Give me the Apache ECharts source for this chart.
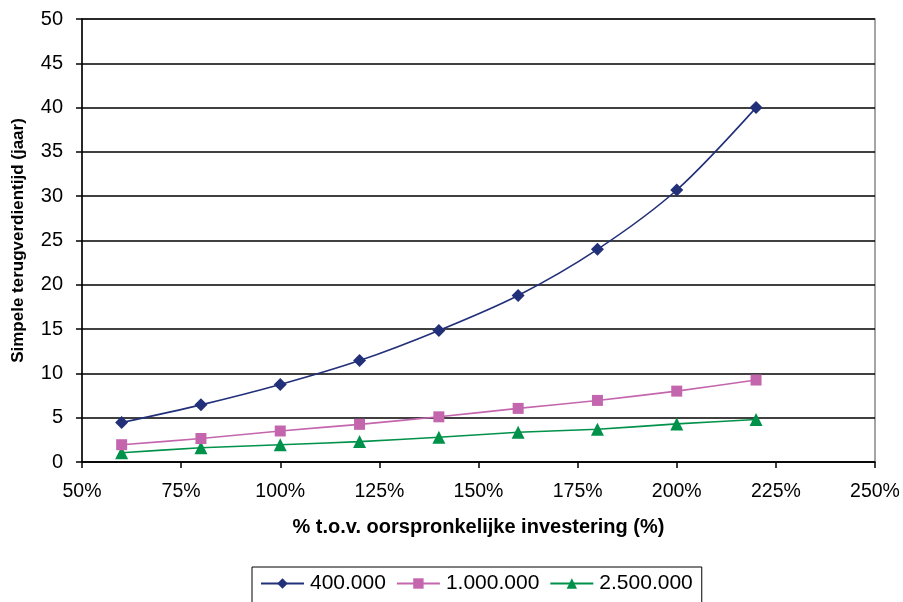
<!DOCTYPE html>
<html>
<head>
<meta charset="utf-8">
<script src="https://cdn.jsdelivr.net/npm/echarts@6/dist/echarts.min.js"></script>
<style>
  html, body { margin: 0; padding: 0; background: #fff; }
  #chart { width: 903px; height: 602px; }
</style>
</head>
<body>
<div id="chart"></div>
<script>
// Investment share relative to the original investment (%)
const investPct = [60, 80, 100, 120, 140, 160, 180, 200, 220];

// Simple payback period (years) per annual volume
const series400k = [4.45, 6.45, 8.75, 11.45, 14.85, 18.8, 24.0, 30.7, 40.0];
const series1m   = [1.95, 2.65, 3.5, 4.25, 5.1, 6.05, 6.95, 8.0, 9.25];
const series2_5m = [1.05, 1.6, 1.95, 2.3, 2.8, 3.35, 3.7, 4.3, 4.8];

const seriesNames = ['400.000', '1.000.000', '2.500.000'];
const seriesColors = ['#22307A', '#C466AE', '#00924A'];
const seriesSymbols = ['diamond', 'rect', 'triangle'];
const symbolSizes = [13, 11, 13];

const font = 'Liberation Sans, Arial, sans-serif';

const pair = (vals) => investPct.map((x, i) => [x, vals[i]]);
const allValues = [series400k, series1m, series2_5m];

const chart = echarts.init(document.getElementById('chart'), null, { renderer: 'canvas' });

chart.setOption({
  animation: false,
  backgroundColor: '#fff',
  textStyle: { fontFamily: font },
  grid: {
    left: 82, right: 28, top: 19, bottom: 140,
    show: true, borderColor: '#888', borderWidth: 1.5, backgroundColor: 'transparent'
  },
  legend: {
    left: 252, top: 567,
    padding: [6, 9, 20, 8],
    borderColor: '#000', borderWidth: 1,
    itemWidth: 43, itemHeight: 13, itemGap: 10,
    textStyle: { fontFamily: font, fontSize: 21, color: '#000', padding: [0, 0, 0, 1] },
    data: seriesNames
  },
  xAxis: {
    type: 'value', min: 50, max: 250, interval: 25,
    name: '% t.o.v. oorspronkelijke investering (%)',
    nameLocation: 'middle', nameGap: 55,
    nameTextStyle: { fontFamily: font, fontSize: 20, fontWeight: 'bold', color: '#000' },
    axisLine: { show: true, lineStyle: { color: '#000', width: 1.5 } },
    axisTick: { show: true, length: 6, lineStyle: { color: '#000', width: 1.5 } },
    axisLabel: { formatter: (v) => v + '%', fontSize: 19.5, color: '#000', margin: 20, fontFamily: font },
    splitLine: { show: false }
  },
  yAxis: {
    type: 'value', min: 0, max: 50, interval: 5,
    name: 'Simpele terugverdientijd (jaar)',
    nameLocation: 'middle', nameGap: 55, nameRotate: 90,
    nameTextStyle: { fontFamily: font, fontSize: 17, fontWeight: 'bold', color: '#000' },
    axisLine: { show: true, lineStyle: { color: '#000', width: 1.5 } },
    axisTick: { show: true, length: 6, lineStyle: { color: '#000', width: 1.5 } },
    axisLabel: { fontSize: 20, color: '#000', margin: 19, fontFamily: font },
    splitLine: { show: true, lineStyle: { color: '#000', width: 1.5 } }
  },
  series: seriesNames.map((name, i) => ({
    name: name,
    type: 'line',
    data: pair(allValues[i]),
    smooth: i === 0 ? 0.3 : 0.15,
    symbol: seriesSymbols[i],
    symbolSize: symbolSizes[i],
    showAllSymbol: true,
    lineStyle: { color: seriesColors[i], width: 1.6 },
    itemStyle: { color: seriesColors[i], borderWidth: 0 },
    emphasis: { disabled: true },
    z: 10 - i
  }))
});
</script>
</body>
</html>
